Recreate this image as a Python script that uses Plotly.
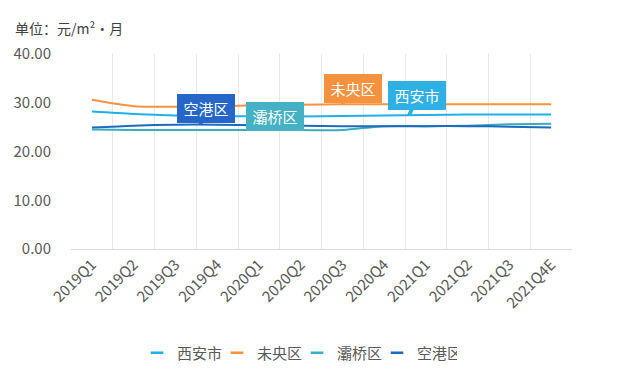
import plotly.graph_objects as go

categories = ["2019Q1", "2019Q2", "2019Q3", "2019Q4", "2020Q1", "2020Q2",
              "2020Q3", "2020Q4", "2021Q1", "2021Q2", "2021Q3", "2021Q4E"]

xian = [28.2, 27.7, 27.4, 27.3, 27.2, 27.2, 27.3, 27.4, 27.5, 27.6, 27.6, 27.6]
weiyang = [30.6, 29.3, 29.2, 29.3, 29.5, 29.6, 29.7, 29.7, 29.7, 29.7, 29.7, 29.7]
baqiao = [24.5, 24.4, 24.4, 24.4, 24.4, 24.4, 24.4, 25.2, 25.2, 25.3, 25.6, 25.7]
konggang = [24.9, 25.3, 25.5, 25.5, 25.4, 25.3, 25.2, 25.2, 25.2, 25.2, 25.1, 24.9]

series = [
    ("西安市", xian, "#1fb0e6"),
    ("未央区", weiyang, "#f7923f"),
    ("灞桥区", baqiao, "#3aacc2"),
    ("空港区", konggang, "#1d6bbd"),
]

FONT = "Noto Sans CJK SC"

fig = go.Figure()
for name, vals, col in series:
    fig.add_trace(go.Scatter(
        x=categories, y=vals, name=name, mode="lines", showlegend=False,
        line=dict(color=col, width=2, shape="spline", smoothing=0.8),
    ))
# legend entries with short line symbols
for name, vals, col in series:
    fig.add_trace(go.Scatter(
        x=[None], y=[None], name=name, mode="markers", showlegend=True,
        marker=dict(symbol="line-ew", size=9, color=col,
                    line=dict(color=col, width=2.5)),
    ))

# callout labels: (text, category position, value, box colour, ax, ay)
callouts = [
    ("空港区", 2.6, konggang[2], "#2566c8", 6, -16),
    ("灞桥区", 4.2, baqiao[4], "#45b1c4", 8, -14),
    ("未央区", 6.0, weiyang[6], "#f5923f", 11, -16),
    ("西安市", 7.6, xian[7], "#2eb0e4", 8, -20),
]
for text, xpos, yv, col, ax, ay in callouts:
    fig.add_annotation(
        x=xpos, y=yv, xref="x", yref="y", text=text, width=50, align="center",
        showarrow=True, arrowhead=0, arrowwidth=4, arrowcolor=col,
        ax=ax, ay=ay, standoff=0,
        bgcolor=col, bordercolor=col, borderpad=3, borderwidth=1,
        font=dict(family=FONT, size=15, color="white"),
    )

fig.add_annotation(
    text="单位：元/m²·月", xref="paper", yref="paper",
    x=-0.116, y=1.133, xanchor="left", yanchor="middle", showarrow=False,
    font=dict(family=FONT, size=14, color="#404040"),
)

fig.update_layout(
    width=640, height=369,
    margin=dict(l=63, r=76, t=46, b=128, autoexpand=False),
    paper_bgcolor="white", plot_bgcolor="white",
    font=dict(family=FONT, size=13, color="#595959"),
    showlegend=True,
    legend=dict(orientation="h", xref="container", yref="container",
                x=0.2016, xanchor="left", y=0.065, yanchor="middle",
                font=dict(family=FONT, size=15, color="#595959"),
                itemwidth=30, entrywidth=35, tracegroupgap=0),
)
fig.update_xaxes(
    type="category", range=[-0.5, 11.5], tickson="boundaries",
    showgrid=True, gridcolor="#e9e9e9", gridwidth=1,
    showline=True, linecolor="#d9d9d9", linewidth=1,
    ticks="", tickangle=-45, tickfont=dict(family=FONT, size=15, color="#595959"),
)
fig.update_yaxes(
    range=[0, 40], dtick=10, tickformat=".2f",
    showgrid=False, zeroline=False, showline=False,
    ticks="", ticklabelstandoff=19,
    tickfont=dict(family=FONT, size=15, color="#595959"),
)

fig.write_html("out.html")
